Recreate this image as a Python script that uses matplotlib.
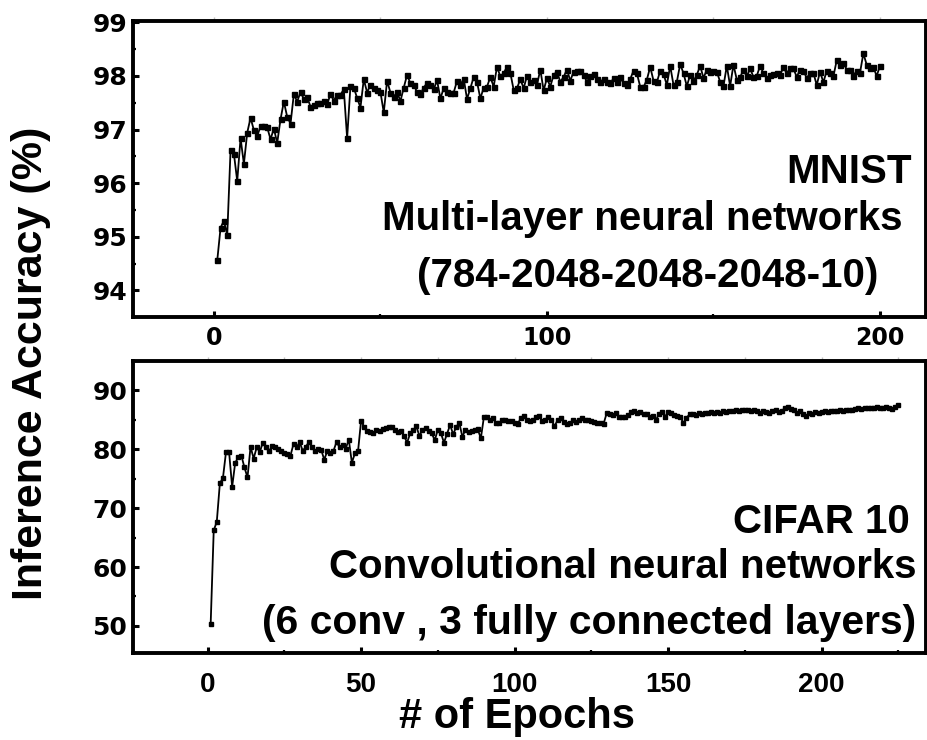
import numpy as np
import matplotlib
matplotlib.use("Agg")
import matplotlib.pyplot as plt

# MNIST: multi-layer network, accuracy (%) per epoch
mnist_epochs = np.arange(1, 201)
mnist_acc = [
    94.56, 95.17, 95.30, 95.03, 96.62, 96.55, 96.04, 96.84, 96.36, 96.94,
    97.22, 96.99, 96.88, 97.06, 97.06, 97.04, 96.82, 97.02, 96.75, 97.19,
    97.52, 97.24, 97.11, 97.66, 97.52, 97.70, 97.57, 97.60, 97.43, 97.46,
    97.49, 97.50, 97.53, 97.47, 97.66, 97.54, 97.65, 97.65, 97.75, 96.84,
    97.81, 97.78, 97.59, 97.41, 97.94, 97.69, 97.84, 97.77, 97.73, 97.70,
    97.32, 97.91, 97.69, 97.61, 97.70, 97.53, 97.78, 98.02, 97.86, 97.83,
    97.70, 97.67, 97.78, 97.87, 97.84, 97.75, 97.92, 97.58, 97.77, 97.70,
    97.69, 97.69, 97.91, 97.83, 97.95, 97.57, 97.77, 97.98, 97.89, 97.58,
    97.78, 97.80, 97.98, 97.80,
    98.17, 97.99, 98.05, 98.17, 98.06, 97.74, 97.77, 97.94, 97.77, 98.00,
    97.89, 97.93, 97.83, 98.12, 97.73, 97.96, 97.80, 98.02, 98.08, 97.89,
    97.98, 98.12, 97.91, 98.08, 98.10, 98.10, 98.02, 97.89, 98.00, 98.04,
    97.94, 97.89, 97.94, 97.89, 97.86, 97.96, 97.89, 97.98, 97.86, 97.83,
    97.94, 98.10, 98.05, 97.80, 97.79, 97.93, 98.17, 97.91, 97.88, 98.10,
    98.04, 97.83, 98.19, 97.83, 97.89, 98.22, 98.05, 97.81, 98.02, 97.90,
    98.02, 98.19, 97.96, 98.12, 98.08, 98.10, 98.08, 97.89, 97.81, 98.19,
    97.81, 98.21, 97.93, 97.98, 98.11, 97.99, 98.14, 97.98, 98.00, 98.19,
    98.05, 97.96, 98.02, 98.04, 98.06, 98.02, 98.16, 98.05, 98.14, 98.14,
    97.98, 98.12, 98.10, 97.96, 98.05, 98.06, 97.83, 98.08, 97.88, 98.10,
    98.05, 97.99, 98.29, 98.21, 98.25, 98.12, 98.11, 98.00, 98.10, 98.06,
    98.42, 98.21, 98.14, 98.16, 98.00, 98.19,
]

# CIFAR 10: conv network, accuracy (%) per epoch
cifar_epochs = np.arange(1, 226)
cifar_acc = [
    50.3, 66.2, 67.7, 74.2, 75.1, 79.5, 79.5, 73.6, 77.7, 78.6,
    78.9, 76.9, 75.2, 80.4, 78.4, 80.3, 79.5, 81.1, 80.3, 79.6,
    80.5, 80.4, 80.1, 79.6, 79.4, 79.2, 78.9, 80.9, 80.3, 81.2,
    79.7, 80.4, 81.2, 80.3, 79.7, 80.1, 79.9, 78.2, 79.7, 79.4,
    79.7, 81.2, 80.3, 80.7, 80.1, 81.6, 77.7, 79.3, 79.6, 84.8,
    83.8, 83.0, 82.9, 82.7, 83.3, 83.1, 83.4, 83.6, 83.8, 83.8,
    83.3, 82.9, 83.0, 82.2, 81.1, 82.7, 83.2, 83.9, 82.2, 83.3,
    83.5, 83.1, 82.7, 81.5, 83.3, 82.7, 81.1, 82.6, 84.1, 82.5,
    83.8, 84.4, 82.1, 83.3, 82.9, 83.1, 83.3, 83.4, 81.8, 85.4,
    85.4, 84.9, 85.2, 84.4, 84.5, 84.9, 85.0, 84.8, 84.7, 84.5,
    84.3, 85.2, 85.6, 84.9, 84.8, 84.9, 85.4, 85.6, 84.8, 85.0,
    85.5, 84.9, 83.9, 84.9, 85.2, 84.6, 84.2, 84.4, 84.9, 84.6,
    85.0, 85.2, 85.0, 84.9, 84.8, 84.6, 84.5, 84.4, 84.3, 86.1,
    86.0, 85.8, 86.1, 85.5, 85.4, 85.5, 85.8, 86.3, 86.5, 86.1,
    86.3, 85.9, 86.0, 85.5, 85.6, 84.9, 85.9, 86.3, 85.5, 86.3,
    86.1, 85.8, 85.6, 85.5, 84.4, 85.3, 85.9, 86.0, 85.8, 86.1,
    86.0, 86.2, 86.1, 86.3, 86.1, 86.3, 86.2, 86.4, 86.3, 86.5,
    86.4, 86.6, 86.5, 86.7, 86.6, 86.7, 86.5, 86.6, 86.4, 86.2,
    86.5, 86.3, 86.1, 86.4, 86.6, 86.3, 86.5, 86.9, 87.1, 86.8,
    86.6, 86.2, 86.4, 85.9, 85.6, 86.2, 86.0, 86.3, 86.2, 86.3,
    86.4, 86.3, 86.4, 86.5, 86.4, 86.6, 86.5, 86.6, 86.7, 86.6,
    86.8, 86.9, 86.8, 87.0, 86.9, 87.0, 86.9, 87.1, 87.0, 86.9,
    87.1, 87.0, 86.8, 87.2, 87.5,
]

plt.rcParams["font.family"] = ["Liberation Sans", "DejaVu Sans"]
plt.rcParams["font.weight"] = "bold"

fig = plt.figure(figsize=(9.28, 7.4), dpi=100)
ax1 = fig.add_axes([0.1433, 0.572, 0.8545, 0.400])
ax2 = fig.add_axes([0.1433, 0.1176, 0.8545, 0.395])


def style_axes(ax, major_x, minor_x, major_y, minor_y):
    for s in ax.spines.values():
        s.set_linewidth(2.8)
    ax.set_xticks(major_x)
    ax.set_xticks(minor_x, minor=True)
    ax.set_yticks(major_y)
    ax.set_yticks(minor_y, minor=True)
    ax.tick_params(which="major", direction="in", length=4, width=2.2,
                   top=False, right=False)
    ax.tick_params(which="minor", direction="in", length=2.5, width=1.6,
                   top=False, right=False)
    ax.tick_params(axis="y", pad=4, labelsize=18)
    for lab in ax.get_yticklabels():
        lab.set_family("DejaVu Sans")
    # faint outer ticks along the top edge
    sec = ax.secondary_xaxis("top")
    sec.set_xticks(sorted(list(major_x) + list(minor_x)))
    sec.tick_params(direction="out", length=3, width=1, color="0.75",
                    labeltop=False)
    sec.spines["top"].set_visible(False)


# top panel
ax1.plot(mnist_epochs, mnist_acc, color="black", linewidth=1.3,
         marker="s", markersize=3.6)
ax1.set_xlim(-24.3, 213.8)
ax1.set_ylim(93.51, 99.03)
style_axes(ax1, [0, 100, 200], [50, 150], [94, 95, 96, 97, 98, 99],
           [94.5, 95.5, 96.5, 97.5, 98.5])
ax1.tick_params(axis="x", pad=7, labelsize=17)
for lab in ax1.get_xticklabels():
    lab.set_family("DejaVu Sans")

ax1.text(0.982, 0.451, "MNIST", transform=ax1.transAxes,
         ha="right", va="baseline", fontsize=29, fontweight="bold")
ax1.text(0.642, 0.293, "Multi-layer neural networks", transform=ax1.transAxes,
         ha="center", va="baseline", fontsize=29, fontweight="bold")
ax1.text(0.649, 0.101, "(784-2048-2048-2048-10)", transform=ax1.transAxes,
         ha="center", va="baseline", fontsize=29, fontweight="bold")

# bottom panel
ax2.plot(cifar_epochs, cifar_acc, color="black", linewidth=1.3,
         marker="s", markersize=3.2)
ax2.set_xlim(-24.3, 234)
ax2.set_ylim(45.42, 94.97)
style_axes(ax2, [0, 50, 100, 150, 200], [25, 75, 125, 175, 225],
           [50, 60, 70, 80, 90], [55, 65, 75, 85, 95])
ax2.tick_params(axis="x", pad=14, labelsize=20)

ax2.text(0.980, 0.4105, "CIFAR 10", transform=ax2.transAxes,
         ha="right", va="baseline", fontsize=29, fontweight="bold")
ax2.text(0.618, 0.258, "Convolutional neural networks", transform=ax2.transAxes,
         ha="center", va="baseline", fontsize=29, fontweight="bold")
ax2.text(0.575, 0.065, "(6 conv , 3 fully connected layers)",
         transform=ax2.transAxes, ha="center", va="baseline",
         fontsize=29.4, fontweight="bold")

ax2.set_xlabel("# of Epochs", fontsize=30, fontweight="bold")
ax2.xaxis.set_label_coords(0.484, -0.152)
fig.text(0.033, 0.509, "Inference Accuracy (%)", rotation=90,
         ha="center", va="center", fontsize=31, fontweight="bold")

fig.savefig("out.png", dpi=100)
